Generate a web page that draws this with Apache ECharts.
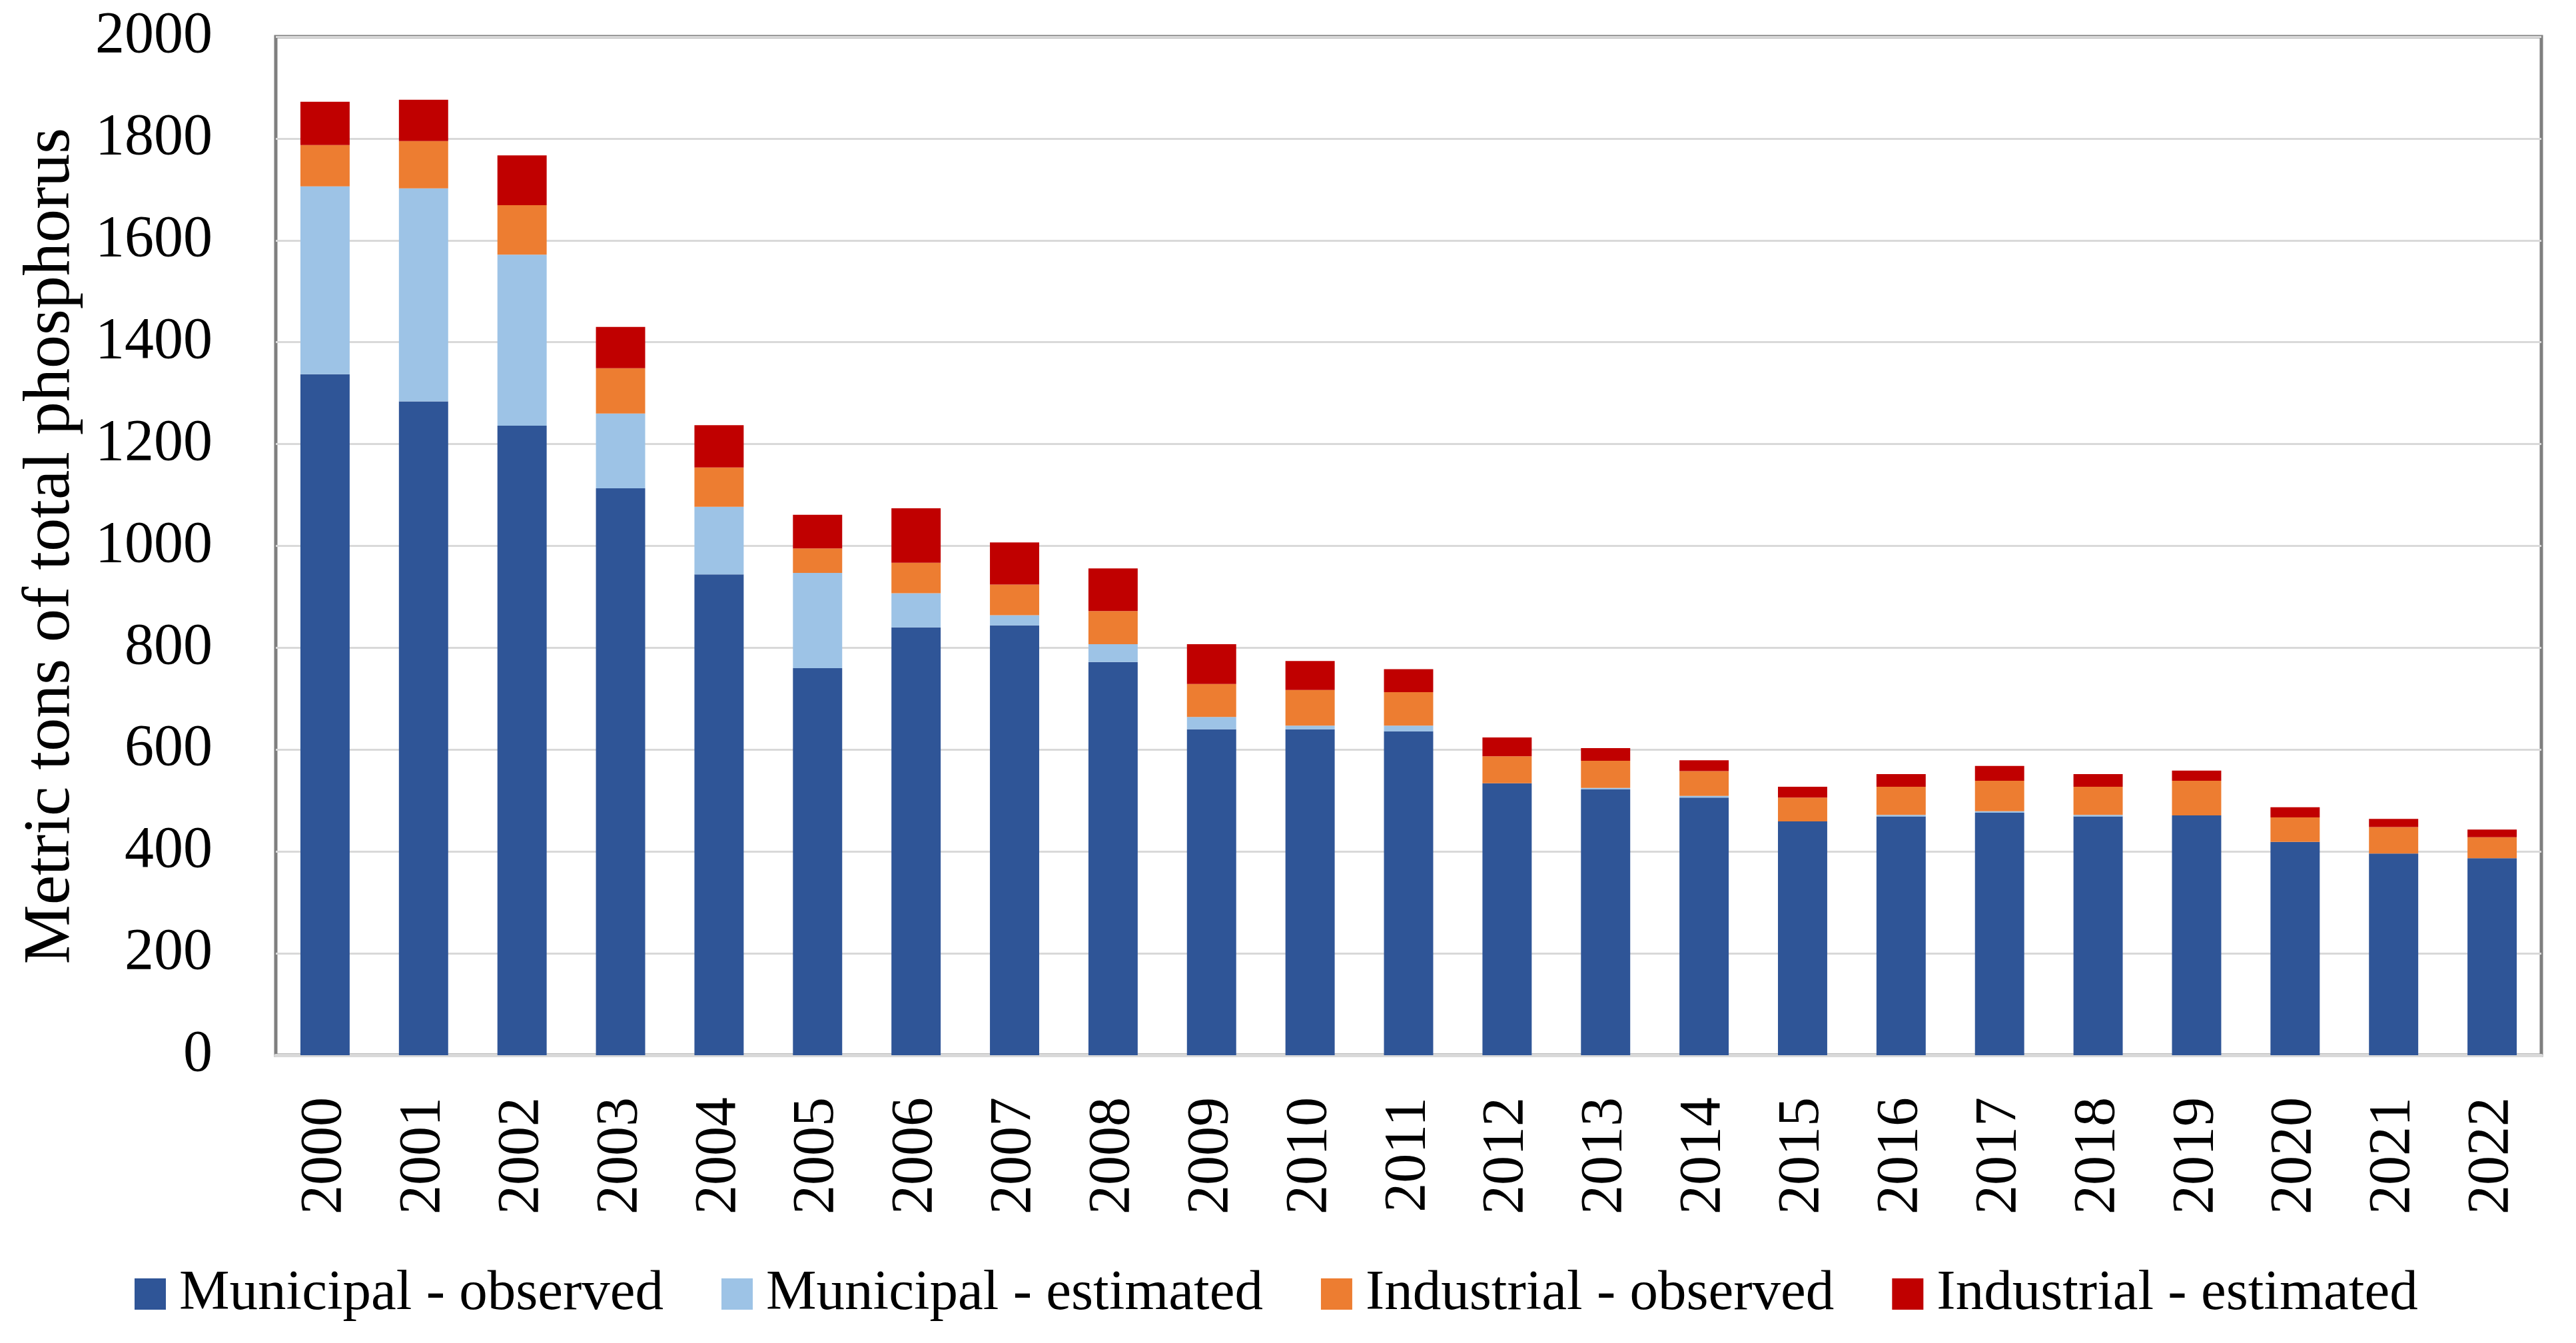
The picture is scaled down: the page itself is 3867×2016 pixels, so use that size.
<!DOCTYPE html>
<html>
<head>
<meta charset="utf-8">
<script src="https://cdn.jsdelivr.net/npm/echarts@6/dist/echarts.min.js"></script>
<style>
html,body{margin:0;padding:0;background:#fff;}
#chart{width:3867px;height:2016px;}
</style>
</head>
<body>
<div id="chart"></div>
<script>
var years = ['2000','2001','2002','2003','2004','2005','2006','2007','2008','2009','2010','2011','2012','2013','2014','2015','2016','2017','2018','2019','2020','2021','2022'];
var municipalObserved = [1337,1284,1236,1113,944,760,840,844,772,640,640,636,534,522,506,459,469,476,469,471,419,396,387];
var municipalEstimated = [369,418,336,147,133,187,67,20,35,24,7,11,0,3,3,0,3,3,3,0,0,0,0];
var industrialObserved = [81,93,97,89,77,48,60,60,65,65,70,66,53,53,49,47,55,60,55,68,48,52,41];
var industrialEstimated = [85,81,98,81,83,66,107,83,84,78,57,45,37,25,21,21,25,29,25,20,20,16,15];
var yTicks = {min:0, max:2000, interval:200};
var seriesNames = ['Municipal - observed','Municipal - estimated','Industrial - observed','Industrial - estimated'];
var colors = ['#2F5597','#9DC3E6','#ED7D31','#C00000'];
var FONT = '"Liberation Serif", "DejaVu Serif", serif';

var chart = echarts.init(document.getElementById('chart'));
var dataSets = [municipalObserved, municipalEstimated, industrialObserved, industrialEstimated];
var series = dataSets.map(function(d,i){
  return {
    name: seriesNames[i],
    type: 'bar',
    stack: 'total',
    data: d,
    barWidth: '50%',
    itemStyle: {color: colors[i]}
  };
});
chart.setOption({
  animation: false,
  backgroundColor: '#fff',
  color: colors,
  textStyle: {fontFamily: FONT, color: '#000'},
  grid: {left: 414, right: 52, top: 55, bottom: 432, show: true, borderColor: '#7F7F7F', borderWidth: 5, backgroundColor: 'transparent'},
  legend: {
    left: 197, top: 1895,
    itemWidth: 47, itemHeight: 47, itemGap: 87,
    icon: 'rect',
    textStyle: {fontFamily: FONT, fontSize: 85, color: '#000', padding: [0,0,0,15]},
    data: seriesNames
  },
  xAxis: {
    type: 'category',
    data: years,
    axisLine: {show: true, lineStyle: {color: '#D9D9D9', width: 5}},
    axisTick: {show: false},
    axisLabel: {rotate: 90, fontSize: 88, fontFamily: FONT, color: '#000', margin: 63}
  },
  yAxis: {
    type: 'value',
    min: yTicks.min, max: yTicks.max, interval: yTicks.interval,
    name: 'Metric tons of total phosphorus',
    nameLocation: 'middle',
    nameGap: 287,
    nameTextStyle: {fontSize: 100, fontFamily: FONT, color: '#000'},
    axisLine: {show: false},
    axisTick: {show: false},
    axisLabel: {fontSize: 88, fontFamily: FONT, color: '#000', margin: 95, formatter: function(v){ return String(v); }},
    splitLine: {show: true, lineStyle: {color: '#D9D9D9', width: 3}}
  },
  series: series
});
</script>
</body>
</html>
